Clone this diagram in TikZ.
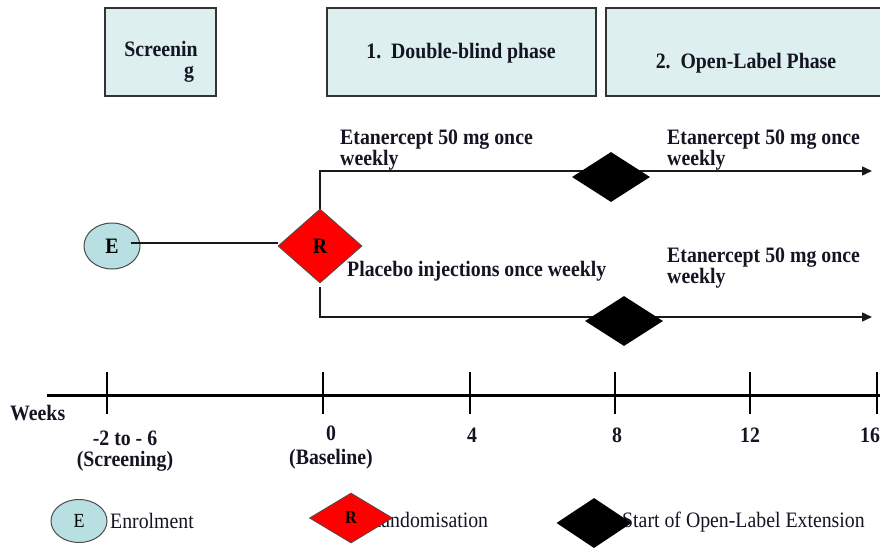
\documentclass[tikz,border=0pt]{standalone}
\usepackage{fontspec}
\setmainfont{Liberation Serif}[FakeStretch=0.9]
\usetikzlibrary{shapes.geometric,arrows.meta,shadows}
\definecolor{boxfill}{RGB}{222,239,239}
\definecolor{efill}{RGB}{184,224,226}
\definecolor{txt}{RGB}{20,20,35}
\tikzset{
  lbl/.style={font=\fontsize{22}{21}\selectfont\bfseries, text=txt, inner sep=0pt},
  leg/.style={font=\fontsize{22}{21}\selectfont, text=txt, inner sep=0pt},
  phasebox/.style={draw=black!80, line width=1.3pt, fill=boxfill, drop shadow={shadow xshift=1.2pt, shadow yshift=-1.2pt, opacity=0.5, fill=black}},
  enode/.style={ellipse, draw=black!70, line width=1pt, fill=efill, inner sep=0pt},
  rnode/.style={diamond, draw=black!70, line width=0.8pt, fill=red, inner sep=0pt},
  onode/.style={diamond, fill=black, inner sep=0pt},
  conn/.style={line width=1.4pt, black!90},
  arr/.style={conn, -{Triangle[length=10pt,width=9pt]}},
  tick/.style={line width=2pt},
}
\begin{document}
\begin{tikzpicture}[x=1pt,y=-1pt]
\useasboundingbox (0,0) rectangle (880,548);
% phase boxes
\draw[phasebox] (105,8) rectangle (216,96);
\node[lbl, anchor=base] (scr1) at (161,57) {Screenin};
\node[lbl, anchor=base] (scr2) at (189,78) {g};
\draw[phasebox] (327,8) rectangle (596,96);
\node[lbl, anchor=base] (db) at (461,59) {1.\ \ Double-blind phase};
\draw[phasebox] (606,8) rectangle (886,96);
\node[lbl, anchor=base] (ol) at (746,69) {2.\ \ Open-Label Phase};

% connectors
\coordinate (topend) at (872,171);
\coordinate (botend) at (872,317);
\node[enode, minimum width=56pt, minimum height=46pt, font=\fontsize{22}{21}\selectfont\bfseries] (E) at (112,246) {E};
\node[rnode, minimum width=84pt, minimum height=74pt, font=\fontsize{22}{21}\selectfont\bfseries] (R) at (320,246) {R};
\draw[conn] ([xshift=-10pt,yshift=3pt]E.east) -- ([yshift=3pt]R.west);
\draw[arr] (R.north) |- (topend);
\draw[arr] ([yshift=-4pt]R.south) |- (botend);
\node[onode, minimum width=78pt, minimum height=50pt] (D1) at (611,177) {};
\node[onode, minimum width=78pt, minimum height=50pt] (D2) at (624,321) {};

% arm labels (base = last line)
\node[lbl, anchor=base west, align=left] (t1) at (340,166) {Etanercept 50 mg once\\weekly};
\node[lbl, anchor=base west, align=left] (t2) at (667,166) {Etanercept 50 mg once\\weekly};
\node[lbl, anchor=base west] (t3) at (347,276) {Placebo injections once weekly};
\node[lbl, anchor=base west, align=left] (t4) at (667,283) {Etanercept 50 mg once\\weekly};

% timeline
\coordinate (axL) at (47,395);
\coordinate (axR) at (882,395);
\draw[line width=3pt] (axL) -- (axR);
\foreach \x in {107,323,470,615,750,877}{
  \draw[tick] (\x,372) -- (\x,414);
}
\node[lbl, anchor=base west] (wk) at (10,420) {Weeks};
\node[lbl, anchor=base, align=center] (w1) at (125,466) {-2 to - 6\\(Screening)};
\node[lbl, anchor=base, align=center] (w2) at (331,464) {0\\[3pt](Baseline)};
\node[lbl, anchor=base] (w3) at (472,442) {4};
\node[lbl, anchor=base] (w4) at (617,442) {8};
\node[lbl, anchor=base] (w5) at (750,442) {12};
\node[lbl, anchor=base] (w6) at (870,442) {16};

% legend
\node[enode, minimum width=56pt, minimum height=43pt, font=\fontsize{20}{20}\selectfont] (LE) at (79,521) {E};
\node[leg, anchor=base west] (LEt) at (110,528) {Enrolment};
\node[leg, anchor=base west] (LRt) at (368,527) {Randomisation};
\node[rnode, minimum width=83pt, minimum height=50pt, font=\fontsize{18}{18}\selectfont\bfseries] (LR) at (351,518) {R};
\node[leg, anchor=base west] (LOt) at (622,527) {Start of Open-Label Extension};
\node[onode, minimum width=75pt, minimum height=50pt] (LO) at (594,523) {};
\end{tikzpicture}
\end{document}
